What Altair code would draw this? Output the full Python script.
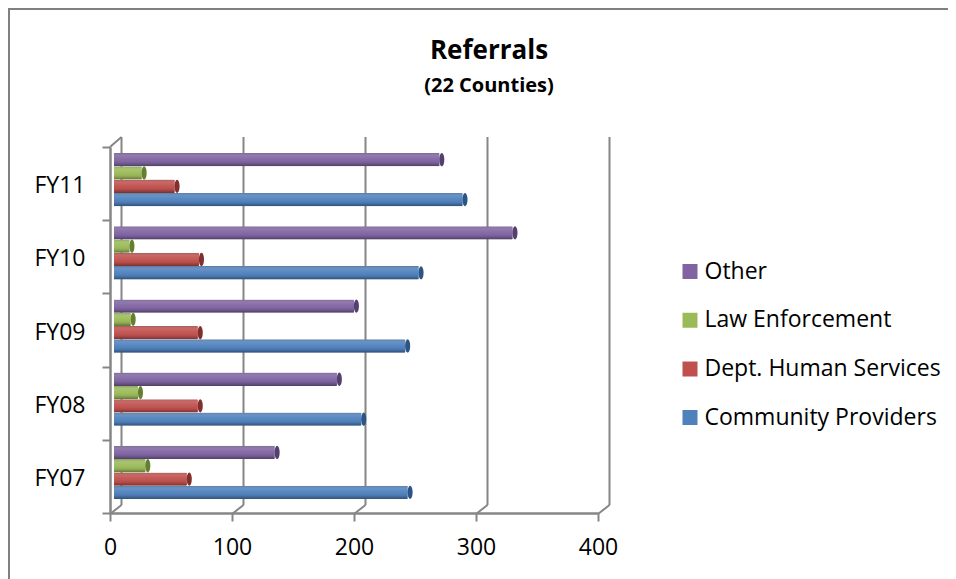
import altair as alt
import pandas as pd

years = ["FY11", "FY10", "FY09", "FY08", "FY07"]
series = ["Other", "Law Enforcement", "Dept. Human Services", "Community Providers"]
colors = ["#8064A2", "#9BBB59", "#C0504D", "#4F81BD"]
dark_colors = ["#54406F", "#64802F", "#822E2C", "#2B5487"]
other = [270, 330, 200, 186, 135]
law = [26, 16, 17, 23, 29]
dhs = [53, 73, 72, 72, 63]
community = [289, 253, 242, 206, 244]
x_ticks = [0, 100, 200, 300, 400]
title_lines = ["Referrals", "(22 Counties)"]

FONT = "Open Sans"
GREY = "#868686"
W, H = 488, 366
LEFT, TOP, RIGHT, BOTTOM = 102, 139, 350, 66
DX, DY = 11.5, 8

rows = []
for s, vals in zip(series, [other, law, dhs, community]):
    for y, v in zip(years, vals):
        rows.append({"year": y, "series": s, "value": v})
df = pd.DataFrame(rows)

xs = alt.Scale(domain=[0, 400], range=[0, W], nice=False)
ys = alt.Scale(domain=years, range=[0, H], paddingInner=0, paddingOuter=0)
yo = alt.Scale(domain=series, paddingInner=0, paddingOuter=0.75, align=0.3)

x_axis = alt.Axis(
    values=x_ticks, tickSize=8, tickColor=GREY, tickWidth=2, domainColor=GREY, domainWidth=2.5,
    labelFontSize=23, labelFont=FONT, labelColor="#000", labelPadding=15, grid=False, labelFlush=False,
)
y_axis = alt.Axis(
    tickBand="extent", tickSize=8, tickColor=GREY, tickWidth=2, domainColor=GREY, domainWidth=2.5,
    labelFontSize=23, labelFont=FONT, labelColor="#000", labelPadding=17, grid=False, labelOffset=2,
)
yenc = alt.Y("year:N", scale=ys, sort=years, title=None, axis=y_axis)
xenc = alt.X("value:Q", scale=xs, title=None, axis=x_axis)
yoff = alt.YOffset("series:N", scale=yo, sort=series)

grid_df = pd.DataFrame({"v": x_ticks})
depth = DX / W * 400

back = alt.Chart(grid_df).mark_rule(color=GREY, strokeWidth=2, xOffset=DX, x2Offset=DX).encode(
    x=alt.X("v:Q", scale=xs, title=None, axis=x_axis),
    y=alt.value(-DY - 2),
    y2=alt.value(H - DY),
)
diag = alt.Chart(grid_df).transform_calculate(end="datum.v + %f" % depth).mark_rule(
    color=GREY, strokeWidth=2
).encode(
    x=alt.X("v:Q", scale=xs, title=None, axis=x_axis),
    x2="end:Q",
    y=alt.value(H + 1),
    y2=alt.value(H - DY),
)
top_diag = alt.Chart(pd.DataFrame({"v": x_ticks[:1]})).transform_calculate(end="datum.v + %f" % depth).mark_rule(
    color=GREY, strokeWidth=2
).encode(
    x=alt.X("v:Q", scale=xs, title=None, axis=x_axis),
    x2="end:Q",
    y=alt.value(0),
    y2=alt.value(-DY - 2),
)

corner = dict(cornerRadiusTopLeft=5, cornerRadiusBottomLeft=5, cornerRadiusTopRight=1, cornerRadiusBottomRight=1)

bars = alt.Chart(df).mark_bar(xOffset=4, x2Offset=3, **corner).encode(
    x=xenc, y=yenc, yOffset=yoff,
    color=alt.Color(
        "series:N", scale=alt.Scale(domain=series, range=colors), sort=series, title=None,
        legend=alt.Legend(
            orient="none", legendX=568.5, legendY=112, symbolType="square", symbolSize=225,
            symbolStrokeWidth=0, labelFontSize=23, labelFont=FONT, labelColor="#000",
            rowPadding=23.7, clipHeight=25, labelOffset=3, labelLimit=300, padding=0,
        ),
    ),
)
shade = alt.Chart(df).mark_bar(
    xOffset=4, x2Offset=3, **corner,
    fill=alt.LinearGradient(
        gradient="linear", x1=0, x2=0, y1=0, y2=1,
        stops=[
            alt.GradientStop(color="rgba(110,110,110,0.35)", offset=0),
            alt.GradientStop(color="rgba(255,255,255,0.12)", offset=0.25),
            alt.GradientStop(color="rgba(255,255,255,0.04)", offset=0.5),
            alt.GradientStop(color="rgba(0,0,0,0.08)", offset=0.75),
            alt.GradientStop(color="rgba(0,0,0,0.38)", offset=1),
        ],
    ),
).encode(x=xenc, y=yenc, yOffset=yoff)
cap = alt.Chart(df).mark_point(
    shape="M0,-1 A0.38,1 0 0 1 0,1 A0.38,1 0 0 1 0,-1 Z", filled=True, opacity=1,
    size=176, xOffset=2.4,
).encode(
    x=xenc, y=yenc, yOffset=yoff,
    fill=alt.Fill("series:N", scale=alt.Scale(domain=series, range=dark_colors), sort=series, legend=None),
)

title_df = pd.DataFrame({"t": title_lines, "i": [0, 1]})
t1 = alt.Chart(title_df[title_df.i == 0]).mark_text(fontSize=26, fontWeight="bold", font=FONT, color="#000", align="center", baseline="alphabetic").encode(
    text="t:N", x=alt.value(379), y=alt.value(-88))
t2 = alt.Chart(title_df[title_df.i == 1]).mark_text(fontSize=20, fontWeight="bold", font=FONT, color="#000", align="center", baseline="alphabetic").encode(
    text="t:N", x=alt.value(379), y=alt.value(-55))

line_df = pd.DataFrame({"a": [0]})
border_left = alt.Chart(line_df).mark_rule(color="#808080", strokeWidth=2).encode(
    x=alt.value(-LEFT + 1), y=alt.value(-TOP), y2=alt.value(H + BOTTOM))
border_top = alt.Chart(line_df).mark_rule(color="#808080", strokeWidth=2).encode(
    y=alt.value(-TOP + 1), x=alt.value(-LEFT), x2=alt.value(W + RIGHT))

chart = alt.layer(border_left, border_top, back, diag, top_diag, bars, shade, cap, t1, t2).resolve_scale(
    x="shared", y="shared"
).properties(
    width=W, height=H, autosize=alt.AutoSizeParams(type="none"),
    padding={"left": LEFT, "top": TOP, "right": RIGHT, "bottom": BOTTOM},
).configure_view(stroke=None)

chart.save("out.html", embed_options={"renderer": "svg", "actions": False})
